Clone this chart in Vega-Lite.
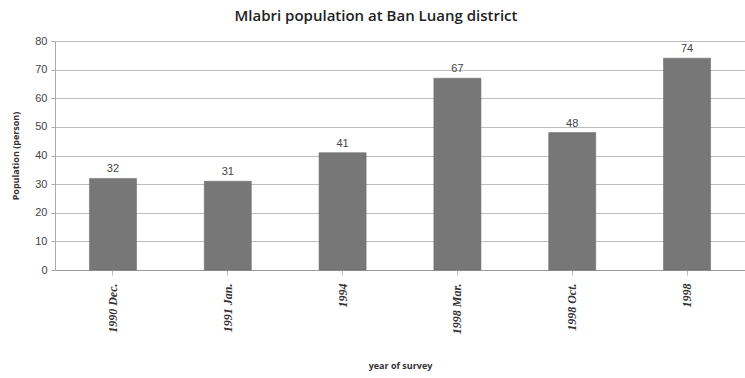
{
  "$schema": "https://vega.github.io/schema/vega-lite/v6.json",
  "autosize": "none",
  "width": 690,
  "height": 229,
  "padding": {"left": 55, "top": 41, "right": 0, "bottom": 108},
  "background": "white",
  "title": {
    "text": "Mlabri population at Ban Luang district",
    "font": "Open Sans",
    "fontSize": 15,
    "fontWeight": 600,
    "color": "#222",
    "anchor": "middle",
    "dx": -24,
    "offset": 11
  },
  "data": {
    "values": [
      {"survey": "1990 Dec.", "population": 32},
      {"survey": "1991 Jan.", "population": 31},
      {"survey": "1994", "population": 41},
      {"survey": "1998 Mar.", "population": 67},
      {"survey": "1998 Oct.", "population": 48},
      {"survey": "1998", "population": 74}
    ]
  },
  "encoding": {
    "x": {
      "field": "survey",
      "type": "nominal",
      "sort": null,
      "scale": {"paddingInner": 0.59, "paddingOuter": 0.3},
      "axis": {
        "title": "year of survey",
        "titleFont": "Open Sans",
        "titleFontSize": 9,
        "titleFontWeight": "bold",
        "titleColor": "#333",
        "titlePadding": 28,
        "labelAngle": -90,
        "labelFont": "Liberation Serif",
        "labelFontStyle": "italic",
        "labelFontWeight": "bold",
        "labelFontSize": 12,
        "labelColor": "#333",
        "labelPadding": 8,
        "domainColor": "#999",
        "tickColor": "#bbb",
        "tickSize": 5
      }
    },
    "y": {
      "field": "population",
      "type": "quantitative",
      "scale": {"domain": [0, 80]},
      "axis": {
        "title": "Population (person)",
        "titleFont": "Open Sans",
        "titleFontSize": 9,
        "titleFontWeight": "bold",
        "titleColor": "#333",
        "titlePadding": 14,
        "values": [0, 10, 20, 30, 40, 50, 60, 70, 80],
        "labelFont": "Liberation Sans",
        "labelFontSize": 11,
        "labelColor": "#444",
        "labelPadding": 4,
        "domainColor": "#aaa",
        "tickColor": "#aaa",
        "tickSize": 4,
        "gridColor": "#bdbdbd",
        "gridWidth": 1
      }
    }
  },
  "layer": [
    {
      "mark": {"type": "bar", "color": "#777777", "stroke": "#666666", "strokeWidth": 0.5}
    },
    {
      "mark": {
        "type": "text",
        "baseline": "bottom",
        "dy": -4,
        "font": "Liberation Sans",
        "fontSize": 11,
        "color": "#444"
      },
      "encoding": {"text": {"field": "population", "type": "quantitative"}}
    }
  ],
  "config": {"view": {"stroke": null}}
}
